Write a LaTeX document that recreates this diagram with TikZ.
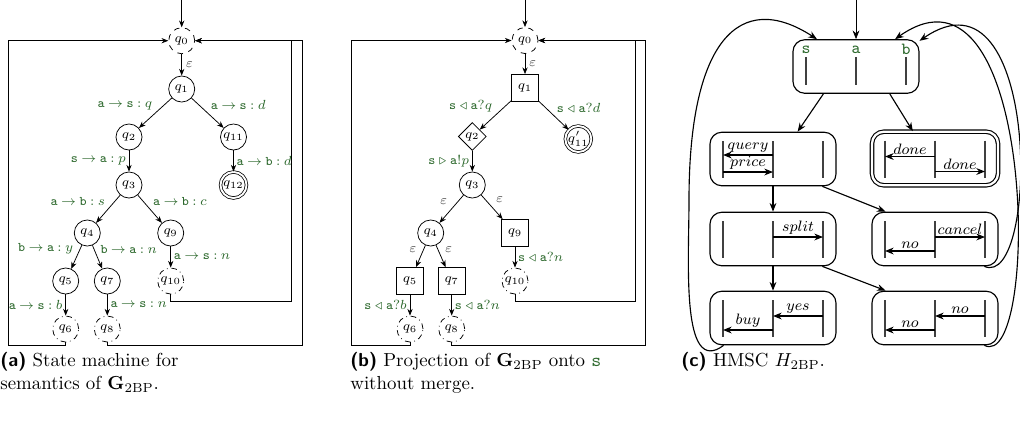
\documentclass[tikz,border=0pt]{standalone}
\usepackage{amsmath,amssymb}
\usepackage{tikz}
\usetikzlibrary{arrows.meta,shapes.geometric}
\definecolor{chgreen}{RGB}{45,105,45}
\newcommand{\msgto}[3]{$\mathtt{#1}\mathbin{\to}\mathtt{#2}\mathbin{:}#3$}
\newcommand{\recv}[3]{$\mathtt{#1}\triangleleft\mathtt{#2}?#3$}
\newcommand{\sendm}[3]{$\mathtt{#1}\triangleright\mathtt{#2}!#3$}
\tikzset{state/.style={circle, draw, minimum size=13.8pt, inner sep=0pt, font=\scriptsize}}
\tikzset{init/.style={state, dashed}}
\tikzset{fin/.style={state, dash dot}}
\tikzset{final/.style={double, double distance=1pt}}
\tikzset{sqstate/.style={rectangle, draw, minimum size=14.3pt, inner sep=0pt, font=\scriptsize}}
\tikzset{dmstate/.style={diamond, draw, minimum size=14.8pt, inner sep=0pt, font=\scriptsize}}
\tikzset{lab/.style={font=\scriptsize, text=chgreen, inner sep=1.5pt}}
\tikzset{eps/.style={font=\scriptsize, text=black!70, inner sep=2pt}}
\tikzset{chart/.style={rectangle, rounded corners=6.3pt, draw, semithick,
    minimum width=66.8pt, minimum height=28.4pt}}
\tikzset{lifeline/.style={draw=black!75, semithick}}
\tikzset{msgl/.style={font=\footnotesize, inner sep=1pt, above}}

\begin{document}
\begin{tikzpicture}[x=0.53pt, y=-0.53pt, thin,
    >={Stealth[length=3.6pt, width=2.8pt]}]
  \useasboundingbox (0,0) rectangle (1020,421);

  % (a) state machine
  \node[init] (a0) at (181.7,40.7) {$q_0$};
  \node[state] (a1) at (181.7,89) {$q_1$};
  \node[state] (a2) at (129,137) {$q_2$};
  \node[state] (a11) at (233.5,137) {$q_{11}$};
  \node[state, final] (a12) at (233.5,185) {$q_{12}$};
  \node[state] (a3) at (129,185) {$q_3$};
  \node[state] (a4) at (87.3,233) {$q_4$};
  \node[state] (a9) at (170.7,233) {$q_9$};
  \node[state] (a5) at (65.7,281) {$q_5$};
  \node[state] (a7) at (107.3,281) {$q_7$};
  \node[fin] (a10) at (170.7,281) {$q_{10}$};
  \node[fin] (a6) at (65.7,329) {$q_6$};
  \node[fin] (a8) at (107.3,329) {$q_8$};
  \coordinate (a-in) at (181.7,0);
  \coordinate (aBL) at (8,345);
  \coordinate (aBR) at (302.3,345);
  \coordinate (aMR) at (291.7,301.7);

  \draw[->] (a-in) -- (a0);
  \draw[->] (a0) -- node[eps, right] {$\varepsilon$} (a1);
  \draw[->] (a1) -- node[lab, above left] {\msgto{a}{s}{q}} (a2);
  \draw[->] (a1) -- node[lab, above right] {\msgto{a}{s}{d}} (a11);
  \draw[->] (a11) -- node[lab, right] {\msgto{a}{b}{d}} (a12);
  \draw[->] (a2) -- node[lab, left] {\msgto{s}{a}{p}} (a3);
  \draw[->] (a3) -- node[lab, above left] {\msgto{a}{b}{s}} (a4);
  \draw[->] (a3) -- node[lab, above right] {\msgto{a}{b}{c}} (a9);
  \draw[->] (a4) -- node[lab, above left] {\msgto{b}{a}{y}} (a5);
  \draw[->] (a4) -- node[lab, above right] {\msgto{b}{a}{n}} (a7);
  \draw[->] (a5) -- node[lab, left] {\msgto{a}{s}{b}} (a6);
  \draw[->] (a7) -- node[lab, right] {\msgto{a}{s}{n}} (a8);
  \draw[->] (a9) -- node[lab, right] {\msgto{a}{s}{n}} (a10);
  \draw[->] (a6) |- (aBL) |- (a0);
  \draw[->] (a8) |- (aBR) |- (a0);
  \draw[->] (a10) |- (aMR) |- (a0);

  % (b) projection onto s
  \node[init] (b0) at (525,40.5) {$q_0$};
  \node[sqstate] (b1) at (525,88) {$q_1$};
  \node[dmstate] (b2) at (472.3,136.5) {$q_2$};
  \node[state, final] (b11) at (578.3,139) {$q'_{11}$};
  \node[state] (b3) at (472.3,185) {$q_3$};
  \node[state] (b4) at (430.7,233) {$q_4$};
  \node[sqstate] (b9) at (515,233) {$q_9$};
  \node[sqstate] (b5) at (410,281) {$q_5$};
  \node[sqstate] (b7) at (451.7,281) {$q_7$};
  \node[fin] (b10) at (515,281) {$q_{10}$};
  \node[fin] (b6) at (410,329) {$q_6$};
  \node[fin] (b8) at (451.7,329) {$q_8$};
  \coordinate (b-in) at (525,0);
  \coordinate (bBL) at (351.7,345);
  \coordinate (bBR) at (645.7,345);
  \coordinate (bMR) at (635.7,301.7);

  \draw[->] (b-in) -- (b0);
  \draw[->] (b0) -- node[eps, right] {$\varepsilon$} (b1);
  \draw[->] (b1) -- node[lab, above left] {\recv{s}{a}{q}} (b2);
  \draw[->] (b1) -- node[lab, above right] {\recv{s}{a}{d}} (b11);
  \draw[->] (b2) -- node[lab, left] {\sendm{s}{a}{p}} (b3);
  \draw[->] (b3) -- node[eps, above left] {$\varepsilon$} (b4);
  \draw[->] (b3) -- node[eps, above right] {$\varepsilon$} (b9);
  \draw[->] (b4) -- node[eps, above left] {$\varepsilon$} (b5);
  \draw[->] (b4) -- node[eps, above right] {$\varepsilon$} (b7);
  \draw[->] (b5) -- node[lab, left] {\recv{s}{a}{b}} (b6);
  \draw[->] (b7) -- node[lab, right] {\recv{s}{a}{n}} (b8);
  \draw[->] (b9) -- node[lab, right] {\recv{s}{a}{n}} (b10);
  \draw[->] (b6) |- (bBL) |- (b0);
  \draw[->] (b8) |- (bBR) |- (b0);
  \draw[->] (b10) |- (bMR) |- (b0);

  % (c) HMSC
  \begin{scope}[semithick, >={Stealth[length=4.6pt, width=3.6pt]}]
    \node[chart] (top) at (856,66.5) {};
    \node[chart] (hc2) at (773,159) {};
    \node[chart, double, double distance=1.2pt] (hc3) at (935,158.5) {};
    \node[chart] (hc4) at (773,239) {};
    \node[chart] (hc5) at (935,239) {};
    \node[chart] (hc6) at (773,318) {};
    \node[chart] (hc7) at (935,318) {};
    \coordinate (c-in) at (856,0);
    \coordinate (lbend) at (689,200);

    \foreach \dx/\p in {-50/s, 0/a, 50/b} {
      \node[font=\small\ttfamily, text=chgreen, inner sep=0pt] (l\p)
        at ([shift={(\dx,-17)}]top.center) {\p};
      \draw[lifeline] ([shift={(\dx,-9.5)}]top.center)
        -- ([shift={(\dx,18.5)}]top.center);
    }
    \foreach \c in {hc2,hc3,hc4,hc5,hc6,hc7}
      \foreach \dx in {-50,0,50}
        \draw[lifeline] ([shift={(\dx,-18)}]\c.center)
          -- ([shift={(\dx,19)}]\c.center);
    \foreach \c/\y/\xa/\xb/\t in {hc2/-4/0/-50/query, hc2/13/-50/0/price,
        hc3/-2/0/-50/done, hc3/13/0/50/done, hc4/-2/0/50/split,
        hc5/-2/0/50/cancel, hc5/12/0/-50/no, hc6/-2/50/0/yes,
        hc6/12/0/-50/buy, hc7/-2/50/0/no, hc7/12/0/-50/no}
      \draw[->] ([shift={(\xa,\y)}]\c.center)
        -- node[msgl] {$\t$} ([shift={(\xb,\y)}]\c.center);

    \draw[->, thin] (c-in) -- (top);
    \draw[->] (top.-140) -- (hc2.48);
    \draw[->] (top.-39) -- (hc3.129);
    \draw[->] (hc2) -- (hc4);
    \draw[->] (hc2.-29) -- (hc5.151);
    \draw[->] (hc4) -- (hc6);
    \draw[->] (hc4.-29) -- (hc7.151);
    \draw[->] (hc6.-151) .. controls +(-43,32) and +(0,62) .. (lbend)
      .. controls +(0,-160) and +(-77,-50) .. (top.145);
    \draw[->] (hc5.-29) .. controls +(55,24) and +(122,-84) .. (top.22);
    \draw[->] (hc7.-29) .. controls +(56,28) and +(142,-100) .. (top.35);
  \end{scope}

  % captions
  \node[anchor=north west, align=left, inner sep=0pt] (capa) at (0,352)
    {\textsf{\textbf{(a)}} State machine for\\semantics of $\mathbf{G}_{\mathrm{2BP}}$.};
  \node[anchor=north west, align=left, inner sep=0pt] (capb) at (350,352)
    {\textsf{\textbf{(b)}} Projection of $\mathbf{G}_{\mathrm{2BP}}$ onto \textcolor{chgreen}{\texttt{s}}\\without merge.};
  \node[anchor=north west, align=left, inner sep=0pt] (capc) at (681,352)
    {\textsf{\textbf{(c)}} HMSC $H_{\mathrm{2BP}}$.};
\end{tikzpicture}
\end{document}
